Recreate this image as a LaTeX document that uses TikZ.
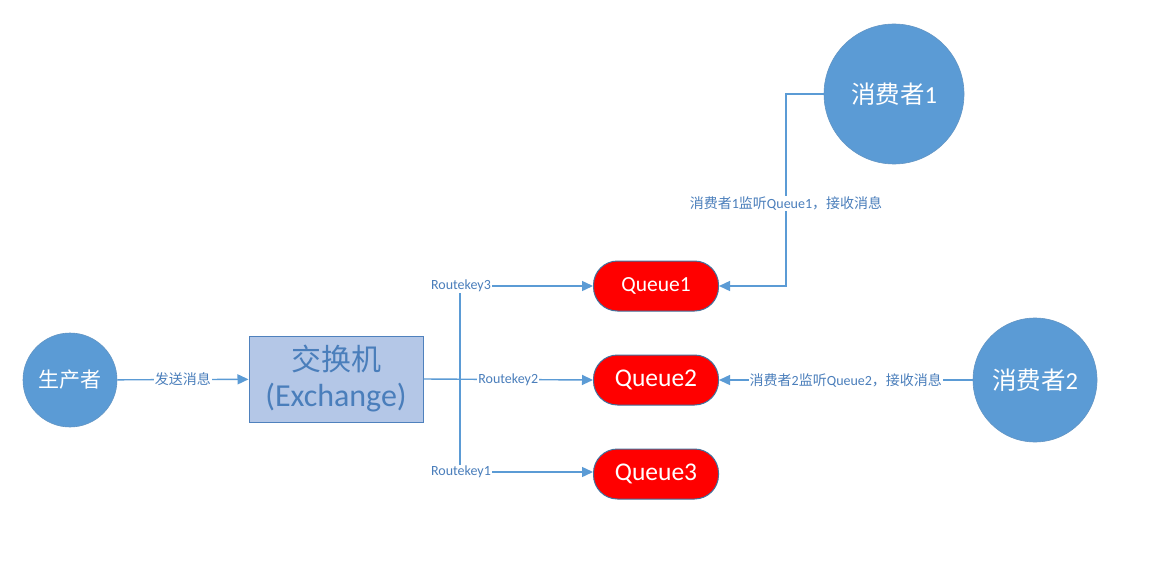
\documentclass[tikz,border=0pt]{standalone}
\usepackage{fontspec}
\setmainfont{Carlito}
\newfontfamily\cjk{Noto Sans CJK SC}
\usetikzlibrary{arrows.meta}
\definecolor{cblue}{HTML}{5B9BD5}
\definecolor{tblue}{HTML}{4A7EBB}
\definecolor{boxfill}{HTML}{B4C7E7}
\definecolor{boxline}{HTML}{4F81BD}
\definecolor{qborder}{HTML}{41719C}
\begin{document}
\begin{tikzpicture}[x=1pt,y=-1pt,
  circ/.style={circle, fill=cblue, draw=cblue!80!gray, line width=0.6pt, text=white, inner sep=0pt},
  exbox/.style={rectangle, fill=boxfill, draw=boxline, line width=1pt, text=tblue, align=center, inner sep=0pt},
  queue/.style={rectangle, rounded corners=24pt, fill=red, draw=qborder, line width=1pt, text=white,
    minimum width=125pt, minimum height=50pt, inner sep=0pt},
  conn/.style={draw=cblue, line width=1.4pt},
  arr/.style={conn, -{Triangle[length=11pt,width=10pt]}},
  lbl/.style={fill=white, text=tblue, inner sep=1pt, font=\fontsize{14}{16}\selectfont},
  rk/.style={fill=white, text=tblue, inner sep=1pt, font=\fontsize{14}{16}\selectfont}
]
\useasboundingbox (0,0) rectangle (1169,567);
\fill[white] (0,0) rectangle (1169,567);

\node[circ, minimum size=94pt, font=\fontsize{21}{24}\selectfont] (prod) at (70,380) {\cjk 生产者};
\node[exbox, minimum width=174pt, minimum height=86pt] (ex) at (336,379) {};
\node[text=tblue, font=\cjk\fontsize{30}{34}\selectfont] (exa) at (336,359) {交换机};
\node[text=tblue, font=\fontsize{32}{36}\selectfont] (exb) at (336,398) {(Exchange)};

\node[queue, font=\fontsize{21.5}{24}\selectfont] (q1) at (656,286) {Queue1};
\node[queue, font=\fontsize{25.5}{28}\selectfont] (q2) at (656,380) {Queue2};
\node[queue, font=\fontsize{25.5}{28}\selectfont] (q3) at (656,474) {Queue3};

\node[circ, minimum size=140pt, font=\fontsize{24.5}{28}\selectfont] (c1) at (894,94) {{\cjk 消费者}1};
\node[circ, minimum size=124pt, font=\fontsize{24.5}{28}\selectfont] (c2) at (1035,380) {{\cjk 消费者}2};

% producer -> exchange
\draw[arr] (prod) -- node[lbl]{\cjk 发送消息} (ex);

% routing
\coordinate (j) at (460,380);
\node[rk] (rk3) at (461,286) {Routekey3};
\node[rk] (rk1) at (461,472) {Routekey1};
\draw[conn] (rk3.south -| j) -- (rk1.north -| j);
\draw[arr] (rk3) -- (rk3 -| q1.west);
\draw[arr] (rk1) -- (rk1 -| q3.west);
\draw[arr] (ex.east) -- node[rk]{Routekey2} (q2.west);

% consumer 1
\coordinate (k1) at (786,94);
\coordinate (k2) at (786,286);
\draw[arr] (c1.west) -- (k1) -- node[lbl, pos=0.57]{{\cjk 消费者}1{\cjk 监听}Queue1{\cjk ，接收消息}} (k2) -- (q1.east);

% consumer 2
\draw[arr] (c2.west) -- node[lbl]{{\cjk 消费者}2{\cjk 监听}Queue2{\cjk ，接收消息}} (q2.east);
\end{tikzpicture}
\end{document}
